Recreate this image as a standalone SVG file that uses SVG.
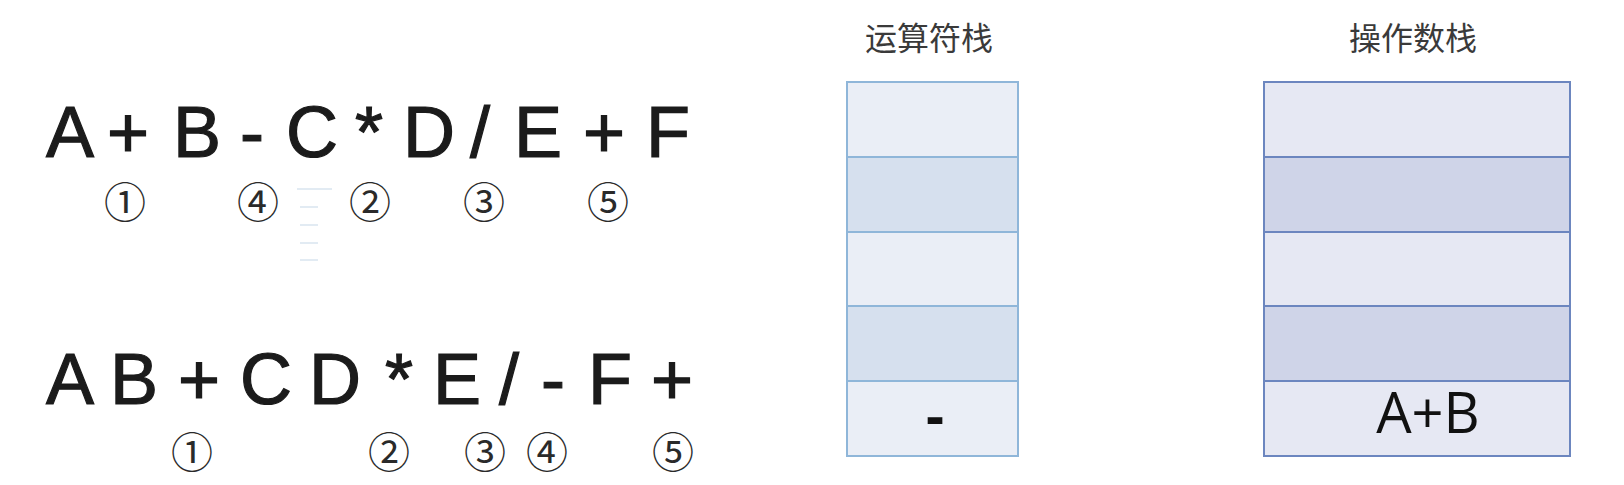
<svg xmlns="http://www.w3.org/2000/svg" width="1624" height="485" viewBox="0 0 1624 485">
<style>
.ex{font-family:"Liberation Sans",Arial,sans-serif;font-size:72px;fill:#1b1b1b;stroke:#1b1b1b;stroke-width:1.2;text-anchor:middle}
.cn{font-family:"DejaVu Serif","Noto Sans CJK SC",serif;font-size:42px;fill:#2a2a2a;text-anchor:middle}
.hd{font-family:"Noto Sans CJK SC",sans-serif;font-size:32px;fill:#3a3a3a;text-anchor:middle}
.cell{font-family:"Open Sans","Liberation Sans",sans-serif;font-size:56px;fill:#111;text-anchor:middle}
.la{fill:#eaeef6;stroke:#8fb6d9;stroke-width:2}
.lb{fill:#d6e0ee;stroke:#8fb6d9;stroke-width:2}
.ra{fill:#e6e8f3;stroke:#6c86bf;stroke-width:2}
.rb{fill:#cfd4e8;stroke:#6c86bf;stroke-width:2}
.ghost{stroke:#d9e4ef;stroke-width:1.5}
</style>
<rect width="1624" height="485" fill="#ffffff"/>
<g id="infix">
<text class="ex" x="70" y="157">A</text>
<text class="ex" x="128" y="157">+</text>
<text class="ex" x="197" y="157">B</text>
<text class="ex" x="252" y="157">-</text>
<text class="ex" x="312" y="157">C</text>
<text class="ex" x="369" y="157">*</text>
<text class="ex" x="429" y="157">D</text>
<text class="ex" x="480" y="157">/</text>
<text class="ex" x="538" y="157">E</text>
<text class="ex" x="604" y="157">+</text>
<text class="ex" x="668" y="157">F</text>
<text class="cn" x="125" y="218">①</text>
<text class="cn" x="258" y="218">④</text>
<text class="cn" x="370" y="218">②</text>
<text class="cn" x="484" y="218">③</text>
<text class="cn" x="608" y="218">⑤</text>
</g>
<g id="ghost-marks">
<line class="ghost" x1="297" y1="189" x2="332" y2="189"/>
<line class="ghost" x1="300" y1="207" x2="318" y2="207"/>
<line class="ghost" x1="300" y1="225" x2="318" y2="225"/>
<line class="ghost" x1="300" y1="243" x2="318" y2="243"/>
<line class="ghost" x1="300" y1="260" x2="318" y2="260"/>
</g>
<g id="postfix">
<text class="ex" x="70" y="404">A</text>
<text class="ex" x="134" y="404">B</text>
<text class="ex" x="199" y="404">+</text>
<text class="ex" x="266" y="404">C</text>
<text class="ex" x="335" y="404">D</text>
<text class="ex" x="399" y="404">*</text>
<text class="ex" x="457" y="404">E</text>
<text class="ex" x="509" y="404">/</text>
<text class="ex" x="553" y="404">-</text>
<text class="ex" x="610" y="404">F</text>
<text class="ex" x="672" y="404">+</text>
<text class="cn" x="192" y="468">①</text>
<text class="cn" x="389" y="468">②</text>
<text class="cn" x="485" y="468">③</text>
<text class="cn" x="547" y="468">④</text>
<text class="cn" x="673" y="468">⑤</text>
</g>
<g id="operator-stack">
<text class="hd" x="929" y="50">运算符栈</text>
<rect class="la" x="847" y="82" width="171" height="75"/>
<rect class="lb" x="847" y="157" width="171" height="75"/>
<rect class="la" x="847" y="232" width="171" height="74"/>
<rect class="lb" x="847" y="306" width="171" height="75"/>
<rect class="la" x="847" y="381" width="171" height="75"/>
<text class="cell" x="935" y="436" font-weight="bold">-</text>
</g>
<g id="operand-stack">
<text class="hd" x="1413" y="50">操作数栈</text>
<rect class="ra" x="1264" y="82" width="306" height="75"/>
<rect class="rb" x="1264" y="157" width="306" height="75"/>
<rect class="ra" x="1264" y="232" width="306" height="74"/>
<rect class="rb" x="1264" y="306" width="306" height="75"/>
<rect class="ra" x="1264" y="381" width="306" height="75"/>
<text class="cell" x="1428" y="433">A+B</text>
</g>
<g id="connectors"/>
</svg>
